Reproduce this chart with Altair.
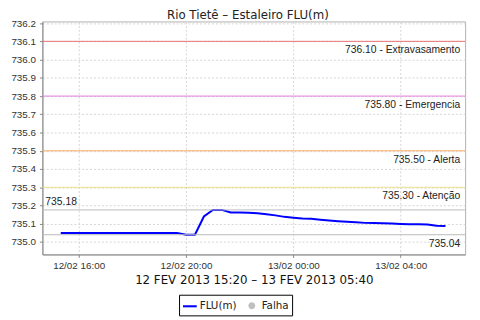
import altair as alt
import pandas as pd

# ---------------- data ----------------
times = [
    "2013-02-12T15:20:00", "2013-02-12T15:40:00", "2013-02-12T16:00:00", "2013-02-12T16:20:00",
    "2013-02-12T16:40:00", "2013-02-12T17:00:00", "2013-02-12T17:20:00", "2013-02-12T17:40:00",
    "2013-02-12T18:00:00", "2013-02-12T18:20:00", "2013-02-12T18:40:00", "2013-02-12T19:00:00",
    "2013-02-12T19:20:00", "2013-02-12T19:40:00", "2013-02-12T20:00:00", "2013-02-12T20:20:00",
    "2013-02-12T20:40:00", "2013-02-12T21:00:00", "2013-02-12T21:20:00", "2013-02-12T21:40:00",
    "2013-02-12T22:00:00", "2013-02-12T22:20:00", "2013-02-12T22:40:00", "2013-02-12T23:00:00",
    "2013-02-12T23:20:00", "2013-02-12T23:40:00", "2013-02-13T00:00:00", "2013-02-13T00:20:00",
    "2013-02-13T00:40:00", "2013-02-13T01:00:00", "2013-02-13T01:20:00", "2013-02-13T01:40:00",
    "2013-02-13T02:00:00", "2013-02-13T02:20:00", "2013-02-13T02:40:00", "2013-02-13T03:00:00",
    "2013-02-13T03:20:00", "2013-02-13T03:40:00", "2013-02-13T04:00:00", "2013-02-13T04:20:00",
    "2013-02-13T04:40:00", "2013-02-13T05:00:00", "2013-02-13T05:20:00", "2013-02-13T05:40:00",
]
values = [
    735.05, 735.05, 735.05, 735.05,
    735.05, 735.05, 735.05, 735.05,
    735.05, 735.05, 735.05, 735.05,
    735.05, 735.05, 735.04, 735.04,
    735.14, 735.176, 735.176, 735.162,
    735.162, 735.161, 735.158, 735.152,
    735.146, 735.138, 735.133, 735.129,
    735.127, 735.122, 735.118, 735.114,
    735.111, 735.108, 735.105, 735.104,
    735.103, 735.101, 735.099, 735.097,
    735.097, 735.096, 735.089, 735.088,
]
series_names = ["FLU(m)", "Falha"]
series_colors = ["#0000ff", "#c0c0c0"]
series_symbols = ["M-1,-0.15H1V0.15H-1Z",
                  "M-0.5,0A0.5,0.5 0 1,0 0.5,0A0.5,0.5 0 1,0 -0.5,0Z"]

limit_values = [736.10, 735.80, 735.50, 735.30]
limit_names = ["Extravasamento", "Emergencia", "Alerta", "Atenção"]
limit_colors = ["#e87070", "#e080e0", "#f8a860", "#eee08a"]

y_ticks = [735.0, 735.1, 735.2, 735.3, 735.4, 735.5, 735.6, 735.7,
           735.8, 735.9, 736.0, 736.1, 736.2]
y_domain = [734.932, 736.209]
x_ticks = [(2013, 2, 12, 16, 0), (2013, 2, 12, 20, 0), (2013, 2, 13, 0, 0), (2013, 2, 13, 4, 0)]
x_domain = [(2013, 2, 12, 14, 39), (2013, 2, 13, 6, 24)]

title_text = "Rio Tietê – Estaleiro FLU(m)"
x_title = "12 FEV 2013 15:20 – 13 FEV 2013 05:40"

# ---------------- tables ----------------
df = pd.DataFrame({"t": times, "v": values, "series": series_names[0]})
lim_df = pd.DataFrame({
    "v": limit_values,
    "color": limit_colors,
    "label": [f"{v:.2f} - {n}" for v, n in zip(limit_values, limit_names)],
})


def dt(p):
    return alt.DateTime(year=p[0], month=p[1], date=p[2], hours=p[3], minutes=p[4])


W, H = 430, 237

legend = alt.Legend(
    title=None, orient="none", legendX=139, legendY=278,
    direction="horizontal", strokeColor="black", padding=3,
    fillColor="white", labelFont="DejaVu Sans", labelFontSize=10.5,
    labelColor="#222", symbolSize=196, symbolOpacity=1,
    columnPadding=7, labelOffset=2,
)

x_enc = alt.X("t:T",
              scale=alt.Scale(domain=[dt(p) for p in x_domain]),
              axis=alt.Axis(values=[dt(p) for p in x_ticks], format="%d/%m %H:%M",
                            title=x_title, titleY=30, titleBaseline="alphabetic",
                            titleFont="DejaVu Sans", titleFontSize=12, titleFontWeight="normal",
                            titleColor="#111", labelPadding=3))
y_enc = alt.Y("v:Q",
              scale=alt.Scale(domain=y_domain, zero=False, nice=False),
              axis=alt.Axis(values=y_ticks, format=".1f", title=None, labelPadding=4))

line = alt.Chart(df).mark_line(strokeWidth=2, interpolate="linear", color="#0000ff").encode(
    x=x_enc, y=y_enc,
)

# legend carrier (draws nothing on the plot)
legend_layer = alt.Chart(df).transform_filter("false").mark_point(
    filled=True, size=196, opacity=1
).encode(
    x=x_enc, y=y_enc,
    color=alt.Color("series:N", scale=alt.Scale(domain=series_names, range=series_colors),
                    legend=legend),
    shape=alt.Shape("series:N", scale=alt.Scale(domain=series_names, range=series_symbols),
                    legend=legend),
)

lim_rules = alt.Chart(lim_df).mark_rule(strokeWidth=1).encode(
    y=y_enc,
    stroke=alt.Stroke("color:N", scale=None),
)
lim_text = alt.Chart(lim_df).mark_text(
    align="right", baseline="alphabetic", dy=12, font="Liberation Sans", fontSize=10.5, color="#222"
).encode(
    y=y_enc,
    x=alt.value(W - 5),
    text="label:N",
)

mx = alt.Chart(df).transform_aggregate(vmax="max(v)").transform_calculate(v="datum.vmax")
mn = alt.Chart(df).transform_aggregate(vmin="min(v)").transform_calculate(v="datum.vmin")
max_rule = mx.mark_rule(strokeWidth=1, color="#bbbbbb").encode(y=y_enc)
min_rule = mn.mark_rule(strokeWidth=1, color="#bbbbbb").encode(y=y_enc)
max_text = mx.mark_text(align="left", baseline="alphabetic", dy=-5, font="Liberation Sans",
                        fontSize=10.5, color="#222").encode(
    y=y_enc, x=alt.value(3), text=alt.Text("v:Q", format=".2f"))
min_text = mn.mark_text(align="right", baseline="alphabetic", dy=12, font="Liberation Sans",
                        fontSize=10.5, color="#222").encode(
    y=y_enc, x=alt.value(W - 5), text=alt.Text("v:Q", format=".2f"))

chart = alt.layer(
    line, lim_rules, max_rule, min_rule, legend_layer, lim_text, max_text, min_text
).properties(
    width=W, height=H,
    title=alt.TitleParams(title_text, font="DejaVu Sans", fontSize=12, fontWeight="normal",
                          color="#222", anchor="middle", dx=-6, offset=-4, frame="group"),
    autosize=alt.AutoSizeParams(type="none"),
    padding={"left": 35, "top": 11, "right": 7, "bottom": 63},
).configure_view(
    stroke="#b0b0b0", strokeWidth=1
).configure_axis(
    domainColor="#888888", tickColor="#888888", tickSize=3,
    gridColor="#d4d4d4", gridDash=[2, 2], grid=True,
    labelFont="Liberation Sans", labelFontSize=10, labelColor="#333333",
)

chart.save("out.html", embed_options={"renderer": "svg", "actions": False})
